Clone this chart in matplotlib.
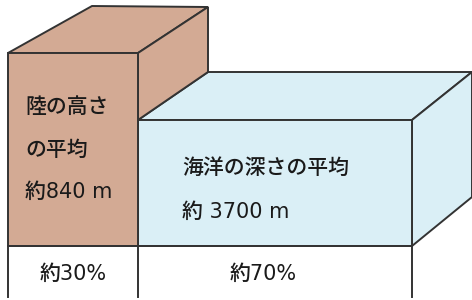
import matplotlib
matplotlib.use("Agg")
import matplotlib.pyplot as plt
from matplotlib.patches import Polygon

plt.rcParams['font.family'] = ['DejaVu Sans', 'Noto Sans CJK JP']

# data
categories = ["陸", "海洋"]
labels_top = ["陸の高さ\nの平均", "海洋の深さの平均"]
avg_values = [840, 3700]          # m
area_share = [30, 70]             # %

LAND = "#D3AA94"
SEA = "#DAEFF6"
EDGE = "#333333"
TXT = "#1a1a1a"

fig = plt.figure(figsize=(4.72, 3.00), dpi=100)
ax = fig.add_axes([0, 0, 1, 1])
ax.set_xlim(0, 472)
ax.set_ylim(300, 0)
ax.axis("off")

lw = 1.4

def poly(pts, fc):
    ax.add_patch(Polygon(pts, closed=True, facecolor=fc, edgecolor=EDGE,
                         linewidth=lw, joinstyle="miter"))

# ocean box
poly([(138, 120), (208, 72), (472, 72), (412, 120)], SEA)      # top
poly([(412, 120), (472, 72), (472, 197), (412, 246)], SEA)     # right side
poly([(138, 120), (412, 120), (412, 246), (138, 246)], SEA)    # front

# land box
poly([(8, 53), (92, 6), (208, 7), (138, 53)], LAND)            # top
poly([(138, 53), (208, 7), (208, 72), (138, 120)], LAND)       # right side
poly([(8, 53), (138, 53), (138, 246), (8, 246)], LAND)         # front

# bottom table lines
for x in (8, 138, 412):
    ax.plot([x, x], [246, 297], color=EDGE, lw=lw)
ax.plot([8, 412], [246, 246], color=EDGE, lw=lw)

fs = 15
kw = dict(fontsize=fs, color=TXT, va="center", fontweight="medium")
# land text
ax.text(25, 107, "陸の高さ", ha="left", **kw)
ax.text(25, 150, "の平均", ha="left", **kw)
ax.text(25, 192, f"約{avg_values[0]} m", ha="left", **kw)

# ocean text
ax.text(182, 168, labels_top[1], ha="left", **kw)
ax.text(182, 212, f"約 {avg_values[1]} m", ha="left", **kw)

# shares
ax.text(73, 274, f"約{area_share[0]}%", ha="center", **kw)
ax.text(263, 274, f"約{area_share[1]}%", ha="center", **kw)

fig.savefig("out.png", dpi=100)
